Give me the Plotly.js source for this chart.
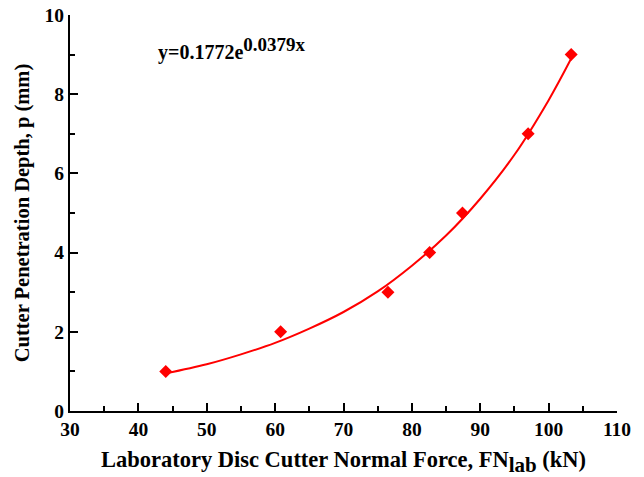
<!DOCTYPE html>
<html>
<head>
<meta charset="utf-8">
<script src="https://cdn.plot.ly/plotly-3.0.1.min.js"></script>
<style>html,body{margin:0;padding:0;background:#fff}#chart{width:644px;height:477px}</style>
</head>
<body>
<div id="chart"></div>
<script>
// Measured points
const forceKN = [44.0, 60.8, 76.5, 82.6, 87.4, 97.0, 103.3];
const depthMM = [1, 2, 3, 4, 5, 7, 9];
// Fitted curve
const fitX = [44, 50, 55, 60, 65, 70, 75, 80, 85, 90, 95, 100, 103.3];
const fitY = [0.95, 1.18, 1.43, 1.72, 2.08, 2.50, 3.02, 3.67, 4.43, 5.36, 6.47, 7.85, 8.90];
// Tick labels
const xTickVals = [30, 40, 50, 60, 70, 80, 90, 100, 110];
const xTickText = ['30', '40', '50', '60', '70', '80', '90', '100', '110'];
const yTickVals = [0, 2, 4, 6, 8, 10];
const yTickText = ['0', '2', '4', '6', '8', '10'];
const equationText = 'y=0.1772e<sup><span style="font-size:19px">0.0379x</span></sup>';
const xTitle = 'Laboratory Disc Cutter Normal Force, FN<sub><span style="font-size:21px">lab</span></sub> (kN)';
const yTitle = 'Cutter Penetration Depth, p (mm)';

const font = 'Liberation Serif';
const traces = [
  {x: fitX, y: fitY, mode: 'lines', line: {color: '#ff0000', width: 2, shape: 'spline'}, hoverinfo: 'skip', showlegend: false},
  {x: forceKN, y: depthMM, mode: 'markers', marker: {symbol: 'diamond', size: 10, color: '#ff0000'}, showlegend: false}
];
const axisCommon = {
  showgrid: false, zeroline: false, showline: true, linecolor: '#000', linewidth: 2,
  ticks: 'inside', ticklen: 8, tickwidth: 2, tickcolor: '#000',
  tickfont: {family: font, size: 19.5, color: '#000', weight: 700},
  tickmode: 'array', mirror: false
};
const layout = {
  width: 644, height: 477,
  margin: {l: 70, r: 27, t: 15, b: 66},
  paper_bgcolor: '#fff', plot_bgcolor: '#fff',
  font: {family: font, color: '#000', weight: 700},
  xaxis: Object.assign({}, axisCommon, {
    range: [30, 110], tickvals: xTickVals, ticktext: xTickText,
    minor: {tickmode: 'linear', tick0: 30, dtick: 5, ticks: 'inside', ticklen: 5, tickwidth: 2, tickcolor: '#000', showgrid: false},
    title: {text: xTitle, font: {family: font, size: 22.5, color: '#000', weight: 700}, standoff: 13}
  }),
  yaxis: Object.assign({}, axisCommon, {
    range: [0, 10], tickvals: yTickVals, ticktext: yTickText,
    minor: {tickmode: 'linear', tick0: 0, dtick: 1, ticks: 'inside', ticklen: 5, tickwidth: 2, tickcolor: '#000', showgrid: false},
    title: {text: yTitle, font: {family: font, size: 20.5, color: '#000', weight: 700}, standoff: 9}
  }),
  annotations: [{
    x: 42.6, y: 9.15, xref: 'x', yref: 'y', xanchor: 'left', yanchor: 'middle',
    text: equationText, showarrow: false,
    font: {family: font, size: 20, color: '#000', weight: 700}
  }]
};
Plotly.newPlot('chart', traces, layout, {displayModeBar: false, staticPlot: true});
</script>
</body>
</html>
